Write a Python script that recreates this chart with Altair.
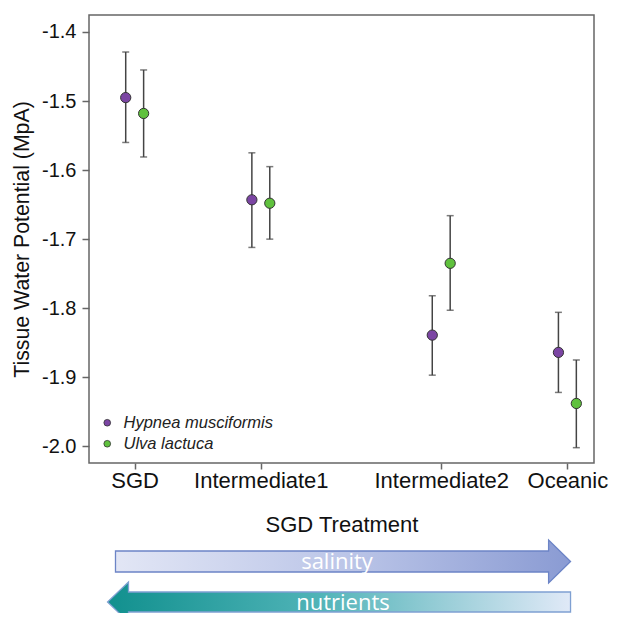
import altair as alt
import pandas as pd

# ---------------- data ----------------
treatments = ["SGD", "Intermediate1", "Intermediate2", "Oceanic"]
treatment_pos = [1.0, 2.0, 3.43, 4.43]
species = ["Hypnea musciformis", "Ulva lactuca"]
species_offset = [-0.071, 0.071]

hypnea_mean = [-1.495, -1.643, -1.839, -1.864]
hypnea_upper = [-1.429, -1.575, -1.782, -1.806]
hypnea_lower = [-1.560, -1.712, -1.897, -1.922]

ulva_mean = [-1.518, -1.648, -1.735, -1.938]
ulva_upper = [-1.455, -1.595, -1.666, -1.875]
ulva_lower = [-1.581, -1.700, -1.803, -2.002]

y_ticks = [-1.4, -1.5, -1.6, -1.7, -1.8, -1.9, -2.0]

colors = ["#7b45a3", "#5fc13d"]

rows = []
for sp, off, means, ups, lows in [
    (species[0], species_offset[0], hypnea_mean, hypnea_upper, hypnea_lower),
    (species[1], species_offset[1], ulva_mean, ulva_upper, ulva_lower),
]:
    for t, p, m, u, l in zip(treatments, treatment_pos, means, ups, lows):
        rows.append({"species": sp, "treatment": t, "x": p + off,
                     "mean": m, "upper": u, "lower": l})
df = pd.DataFrame(rows)

FONT = "Liberation Sans"
W = 505
xs = alt.Scale(domain=[0.638, 4.641], nice=False, zero=False)
ys = alt.Scale(domain=[-2.0242, -1.3754], nice=False, zero=False)

# label expression built from the treatment lists
mids = [(a + b) / 2 for a, b in zip(treatment_pos[:-1], treatment_pos[1:])]
expr = f"'{treatments[-1]}'"
for m, t in reversed(list(zip(mids, treatments[:-1]))):
    expr = f"datum.value < {m} ? '{t}' : ({expr})"

x_axis = alt.Axis(values=treatment_pos, labelExpr=expr, title="SGD Treatment",
                  grid=False, domain=False, tickColor="#666", tickSize=6, tickWidth=1.5,
                  labelFont=FONT, labelFontSize=22, labelColor="#111", labelPadding=1,
                  titleFont=FONT, titleFontSize=22, titleFontWeight="normal",
                  titleColor="#111", titlePadding=23, labelFlush=False)
y_axis = alt.Axis(values=y_ticks,
                  labelExpr="replace(format(datum.value, '.1f'), '\u2212', '-')",
                  title="Tissue Water Potential (MpA)",
                  grid=False, domain=False, tickColor="#666", tickSize=7, tickWidth=1.5,
                  labelFont=FONT, labelFontSize=20, labelColor="#111", labelPadding=6,
                  titleFont=FONT, titleFontSize=21.3, titleFontWeight="normal",
                  titleColor="#111", titlePadding=9)

base = alt.Chart(df).encode(x=alt.X("x:Q", scale=xs, axis=x_axis))

rules = base.mark_rule(color="#444", strokeWidth=1.5).encode(
    y=alt.Y("lower:Q", scale=ys, axis=y_axis), y2="upper:Q")
cap_top = base.mark_tick(orient="horizontal", size=7, thickness=1.5, color="#444").encode(
    y=alt.Y("upper:Q", scale=ys))
cap_bot = base.mark_tick(orient="horizontal", size=7, thickness=1.5, color="#444").encode(
    y=alt.Y("lower:Q", scale=ys))
points = base.mark_circle(size=105, opacity=1, stroke="#333", strokeWidth=1).encode(
    y=alt.Y("mean:Q", scale=ys),
    fill=alt.Fill("species:N", scale=alt.Scale(domain=species, range=colors),
                  legend=alt.Legend(title=None, orient="none", legendX=10, legendY=399.5,
                                    labelFont=FONT, labelFontStyle="italic",
                                    labelFontSize=16.5, labelColor="#222",
                                    symbolType="circle", symbolSize=45,
                                    symbolStrokeColor="#333", symbolStrokeWidth=0.8,
                                    symbolOpacity=1, rowPadding=4, padding=0,
                                    labelOffset=8)))

main = alt.layer(rules, cap_top, cap_bot, points).properties(
    width=W, height=448,
    view=alt.ViewBackground(stroke="#666", strokeWidth=1.5))

# ---------------- arrows panel ----------------
ays = alt.Scale(domain=[10, 85], nice=False, zero=False)

sal_df = pd.DataFrame({"x": [0.848, 4.281, 4.2812, 4.455],
                       "y": [51, 51, 40, 61.5], "y2": [72, 72, 83, 61.5]})
nut_df = pd.DataFrame({"x": [0.785, 0.951, 0.9512, 4.455],
                       "y": [21, 1, 11, 11], "y2": [21, 41, 31, 31]})

sal_grad = alt.LinearGradient(gradient="linear", x1=0, x2=1, y1=0, y2=0, stops=[
    alt.GradientStop(color="#e2e6f5", offset=0),
    alt.GradientStop(color="#bcc6e8", offset=0.5),
    alt.GradientStop(color="#8a9bd3", offset=1)])
nut_grad = alt.LinearGradient(gradient="linear", x1=0, x2=1, y1=0, y2=0, stops=[
    alt.GradientStop(color="#11908e", offset=0),
    alt.GradientStop(color="#4fb3b7", offset=0.45),
    alt.GradientStop(color="#9fd0da", offset=0.75),
    alt.GradientStop(color="#e0e9f7", offset=1)])

sal = alt.Chart(sal_df).mark_area(fill=sal_grad, stroke="#6c84c6", strokeWidth=1.3,
                                  opacity=1, interpolate="linear", clip=True).encode(
    x=alt.X("x:Q", scale=xs, axis=None), y=alt.Y("y:Q", scale=ays, axis=None), y2="y2:Q")
nut = alt.Chart(nut_df).mark_area(fill=nut_grad, stroke="#7fa0d2", strokeWidth=1.3,
                                  opacity=1, interpolate="linear", clip=True).encode(
    x=alt.X("x:Q", scale=xs, axis=None), y=alt.Y("y:Q", scale=ays, axis=None), y2="y2:Q")

labels_df = pd.DataFrame({"x": [2.604, 2.651], "y": [61.5, 20.5],
                          "text": ["salinity", "nutrients"]})
arrow_text = alt.Chart(labels_df).mark_text(color="white", font="Open Sans", fontSize=22,
                                            baseline="middle", align="center").encode(
    x=alt.X("x:Q", scale=xs, axis=None), y=alt.Y("y:Q", scale=ays, axis=None), text="text:N")

arrows = alt.layer(nut, sal, arrow_text).properties(width=W, height=75)

chart = alt.vconcat(main, arrows, spacing=1).properties(
    padding={"left": 2, "top": 6, "right": 0, "bottom": 0}
).configure(font=FONT).configure_view(stroke="transparent")

chart.save("out.html", embed_options={"renderer": "svg", "actions": False})
